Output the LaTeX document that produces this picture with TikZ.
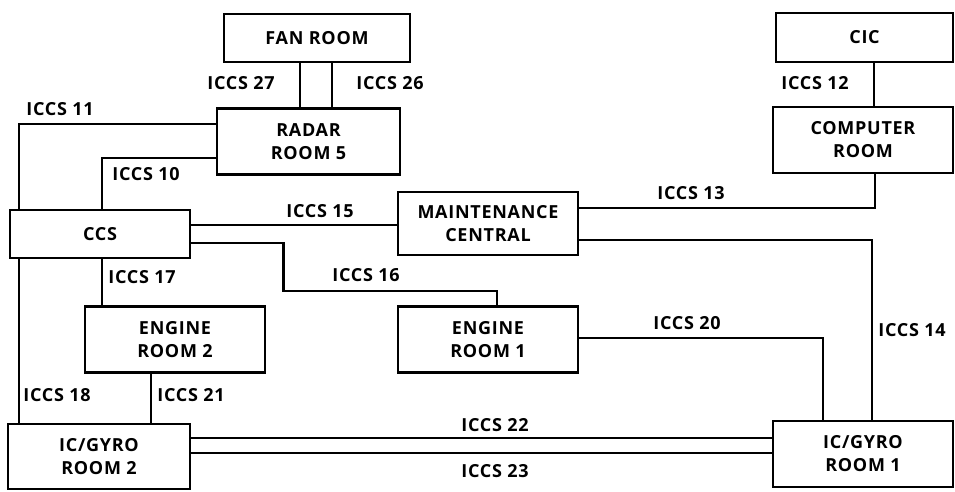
\documentclass[tikz,border=0pt]{standalone}
\usepackage{fontspec}
\setmainfont{Open Sans}[LetterSpace=4]
\usepackage{tikz}
\usetikzlibrary{positioning}

\begin{document}
\begin{tikzpicture}[x=1pt, y=-1pt, font=\fontsize{18}{23}\selectfont\bfseries]
\tikzset{
  room/.style={draw, line width=2.8pt, align=center, minimum width=180pt, minimum height=66pt, inner sep=0pt},
  link/.style={line width=2.2pt},
  tag/.style={inner sep=0pt},
}
\useasboundingbox (0,0) rectangle (955,491);

% Rooms
\node (fan) [room, minimum width=186pt, minimum height=48pt] at (317,38) {FAN ROOM};
\node (radar) [room, minimum width=183pt] at (308.5,141.5) {RADAR\\ROOM 5};
\node (cic) [room, minimum width=177pt, minimum height=49pt] at (864.5,37.5) {CIC};
\node (comp) [room] at (863,140) {COMPUTER\\ROOM};
\node (ccs) [room, minimum height=48pt] at (100,234) {CCS};
\node (maint) [room, minimum width=180pt, minimum height=63pt] at (488,223.5) {MAINTENANCE\\CENTRAL};
\node (eng1) [room] at (488,339.5) {ENGINE\\ROOM 1};
\node (eng2) [room] at (175,339.5) {ENGINE\\ROOM 2};
\node (gyro2) [room, minimum width=182pt, minimum height=65pt] at (99,456.5) {IC/GYRO\\ROOM 2};
\node (gyro1) [room, minimum height=66pt] at (863,454) {IC/GYRO\\ROOM 1};

% Top links
\draw[link] ([xshift=-17pt]fan.south) coordinate (a27) -- (a27 |- radar.north);
\draw[link] ([xshift=15pt]fan.south) coordinate (a26) -- (a26 |- radar.north);
\draw[link] ([xshift=9.5pt]cic.south) coordinate (a12) -- (a12 |- comp.north);
\draw[link] ([yshift=17.5pt]radar.west) -| ([xshift=10pt]ccs.north west);
\draw[link] ([yshift=-16.5pt]radar.west) -| ([xshift=93pt]ccs.north west);

% Middle links
\draw[link] ([yshift=9pt]ccs.east) coordinate (a15) -- (a15 -| maint.west);
\draw[link] ([yshift=-9pt]ccs.east) -- ++(92,0) -- ++(0,48) -| ([xshift=9pt]eng1.north);
\draw[link] ([yshift=15.5pt]maint.east) -| ([xshift=12pt]comp.south);
\draw[link] ([yshift=-16.5pt]maint.east) -| ([xshift=9pt]gyro1.north);
\draw[link] ([yshift=1.5pt]eng1.east) -| ([xshift=-40pt]gyro1.north);
\draw[link] ([xshift=2pt]ccs.south) coordinate (a17) -- (a17 |- eng2.north);

% Bottom links
\draw[link] ([xshift=10pt]ccs.south west) coordinate (a18) -- (a18 |- gyro2.north);
\draw[link] ([xshift=-24pt]eng2.south) coordinate (a21) -- (a21 |- gyro2.north);
\draw[link] ([yshift=18.5pt]gyro2.east) coordinate (a22) -- (a22 -| gyro1.west);
\draw[link] ([yshift=3.5pt]gyro2.east) coordinate (a23) -- (a23 -| gyro1.west);

% Labels
\node (l27) [tag] at (241,83) {ICCS 27};
\node (l26) [tag] at (390,83) {ICCS 26};
\node (l12) [tag] at (815,83) {ICCS 12};
\node (l11) [tag] at (60,109) {ICCS 11};
\node (l10) [tag] at (146,174) {ICCS 10};
\node (l13) [tag] at (691,193) {ICCS 13};
\node (l15) [tag] at (320,211) {ICCS 15};
\node (l16) [tag] at (366,275) {ICCS 16};
\node (l17) [tag] at (142,277) {ICCS 17};
\node (l20) [tag] at (687,323) {ICCS 20};
\node (l14) [tag] at (912,330) {ICCS 14};
\node (l18) [tag] at (57,395) {ICCS 18};
\node (l21) [tag] at (191,395) {ICCS 21};
\node (l22) [tag] at (495,425) {ICCS 22};
\node (l23) [tag] at (495,471) {ICCS 23};

\end{tikzpicture}
\end{document}
